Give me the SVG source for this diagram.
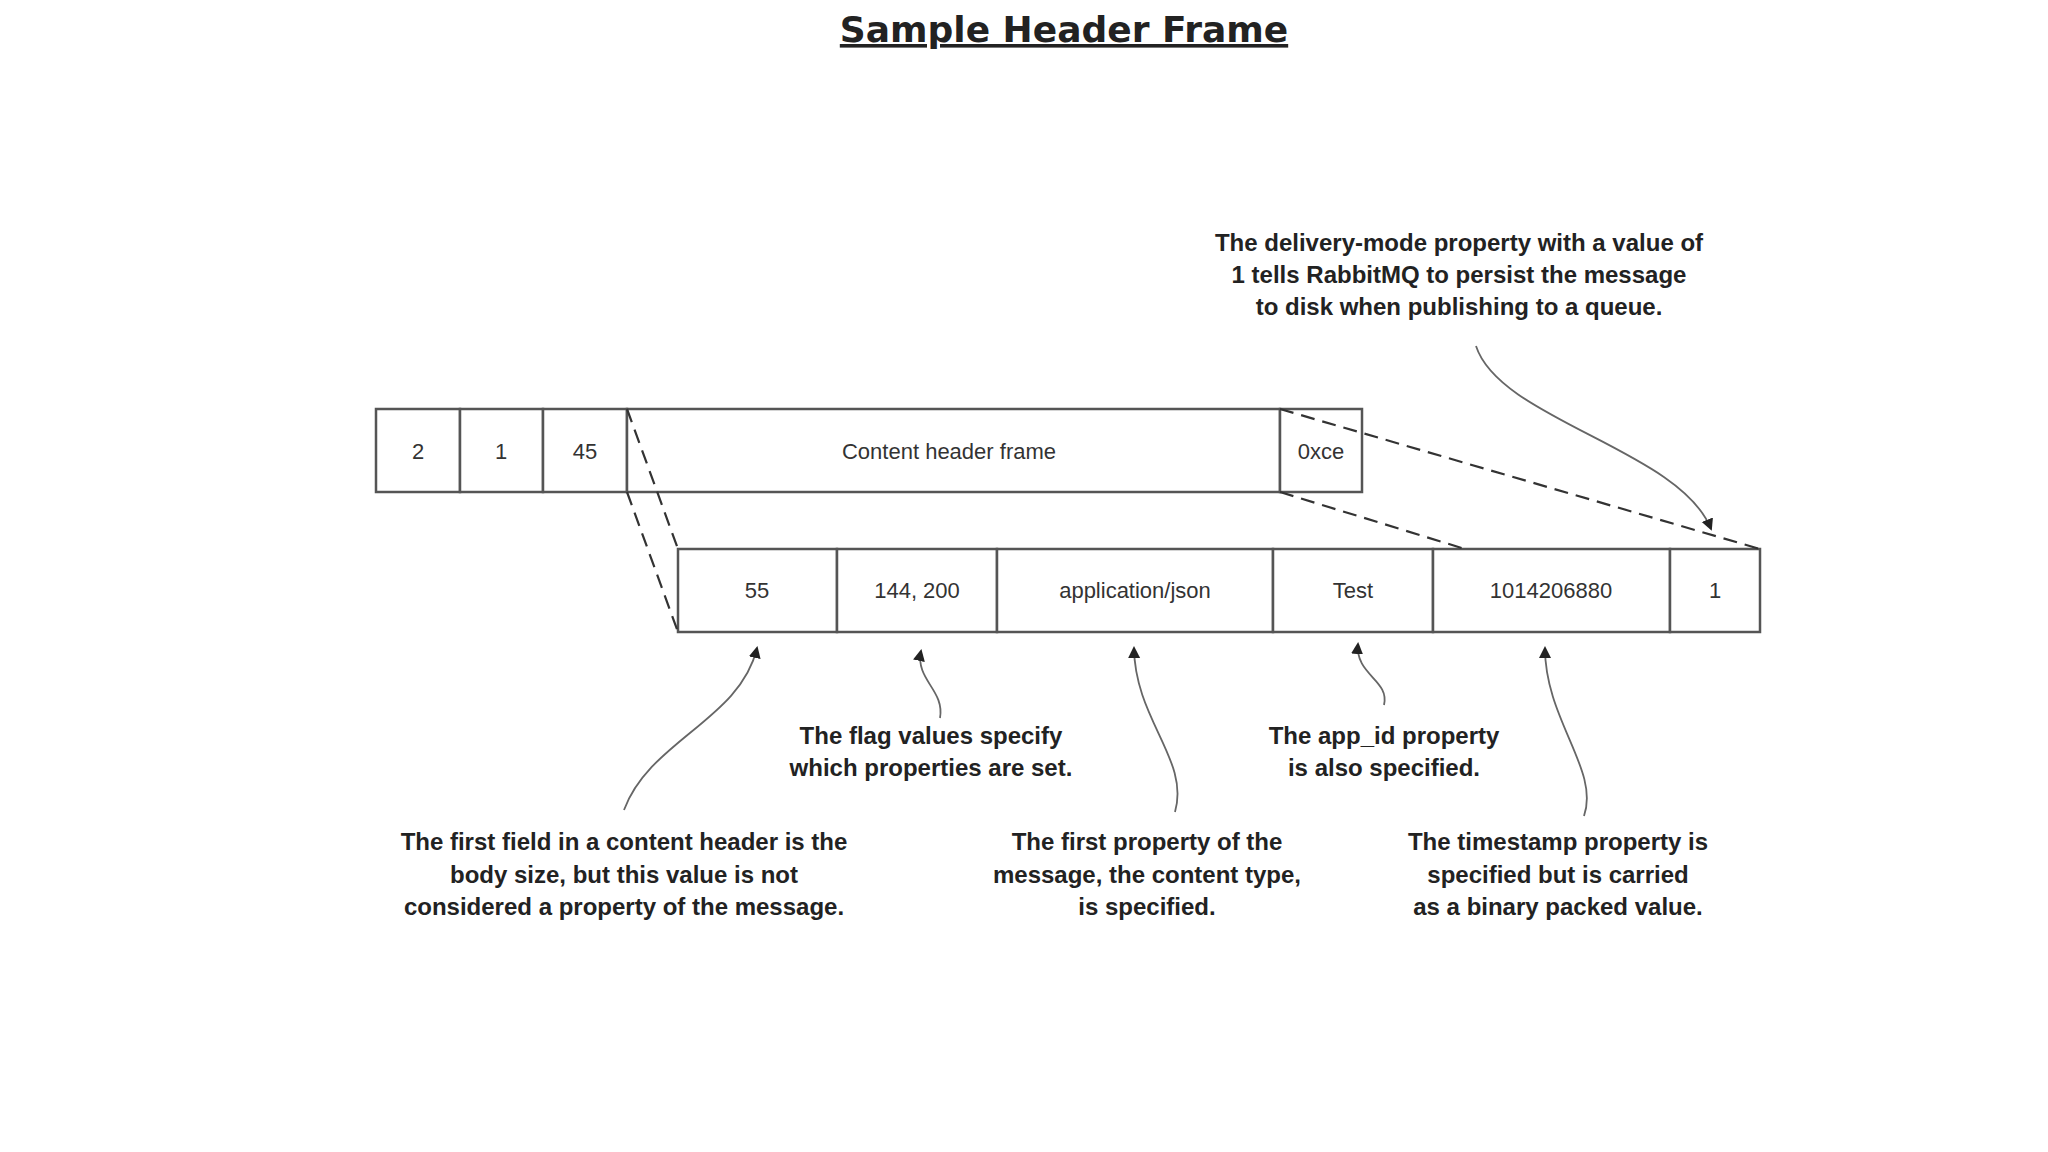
<svg xmlns="http://www.w3.org/2000/svg" width="2048" height="1152" viewBox="0 0 2048 1152">
<style>
.cell{fill:#fff;stroke:#555;stroke-width:2.5}
.ct{font-family:"Liberation Sans",Arial,sans-serif;font-size:22px;fill:#333;text-anchor:middle}
.an{font-family:"Liberation Sans",Arial,sans-serif;font-size:24px;font-weight:bold;fill:#222;text-anchor:middle}
.dash{stroke:#333;stroke-width:2.2;stroke-dasharray:14 8;fill:none}
.cv{stroke:#666;stroke-width:1.8;fill:none;marker-end:url(#ah)}
</style>
<defs><marker id="ah" markerWidth="12" markerHeight="16" refX="10" refY="6" orient="auto" markerUnits="userSpaceOnUse"><path d="M0,0 L12,6 L0,12 Z" fill="#222"/></marker></defs>
<rect width="2048" height="1152" fill="#fff"/>
<text x="1064" y="42" font-family="DejaVu Sans,sans-serif" font-size="36" font-weight="bold" fill="#222" text-anchor="middle" text-decoration="underline">Sample Header Frame</text>
<g id="top">
<rect class="cell" x="376" y="409" width="84" height="83"/><text class="ct" x="418" y="459">2</text>
<rect class="cell" x="460" y="409" width="83" height="83"/><text class="ct" x="501" y="459">1</text>
<rect class="cell" x="543" y="409" width="84" height="83"/><text class="ct" x="585" y="459">45</text>
<rect class="cell" x="627" y="409" width="653" height="83"/><text class="ct" x="949" y="459">Content header frame</text>
<rect class="cell" x="1280" y="409" width="82" height="83"/><text class="ct" x="1321" y="459">0xce</text>
</g>
<g id="bottom">
<rect class="cell" x="678" y="549" width="159" height="83"/><text class="ct" x="757" y="598">55</text>
<rect class="cell" x="837" y="549" width="160" height="83"/><text class="ct" x="917" y="598">144, 200</text>
<rect class="cell" x="997" y="549" width="276" height="83"/><text class="ct" x="1135" y="598">application/json</text>
<rect class="cell" x="1273" y="549" width="160" height="83"/><text class="ct" x="1353" y="598">Test</text>
<rect class="cell" x="1433" y="549" width="237" height="83"/><text class="ct" x="1551" y="598">1014206880</text>
<rect class="cell" x="1670" y="549" width="90" height="83"/><text class="ct" x="1715" y="598">1</text>
</g>
<g id="connectors">
<line class="dash" x1="627" y1="409" x2="678" y2="549"/>
<line class="dash" x1="627" y1="492" x2="678" y2="632"/>
<line class="dash" x1="1280" y1="409" x2="1760" y2="549"/>
<line class="dash" x1="1280" y1="492" x2="1465" y2="549"/>
<path class="cv" d="M1476,346 C1500,420 1680,450 1711,529"/>
<path class="cv" d="M624,810 C650,740 740,720 757,648"/>
<path class="cv" d="M940,718 C945,690 915,680 921,651"/>
<path class="cv" d="M1175,812 C1190,760 1135,720 1134,648"/>
<path class="cv" d="M1384,705 C1390,680 1355,675 1358,644"/>
<path class="cv" d="M1584,816 C1600,770 1545,720 1545,648"/>
</g>
<g id="notes">
<text class="an" x="1459" y="251">The delivery-mode property with a value of</text>
<text class="an" x="1459" y="283">1 tells RabbitMQ to persist the message</text>
<text class="an" x="1459" y="315">to disk when publishing to a queue.</text>
<text class="an" x="624" y="850">The first field in a content header is the</text>
<text class="an" x="624" y="883">body size, but this value is not</text>
<text class="an" x="624" y="915">considered a property of the message.</text>
<text class="an" x="931" y="744">The flag values specify</text>
<text class="an" x="931" y="776">which properties are set.</text>
<text class="an" x="1147" y="850">The first property of the</text>
<text class="an" x="1147" y="883">message, the content type,</text>
<text class="an" x="1147" y="915">is specified.</text>
<text class="an" x="1384" y="744">The app_id property</text>
<text class="an" x="1384" y="776">is also specified.</text>
<text class="an" x="1558" y="850">The timestamp property is</text>
<text class="an" x="1558" y="883">specified but is carried</text>
<text class="an" x="1558" y="915">as a binary packed value.</text>
</g>
</svg>
